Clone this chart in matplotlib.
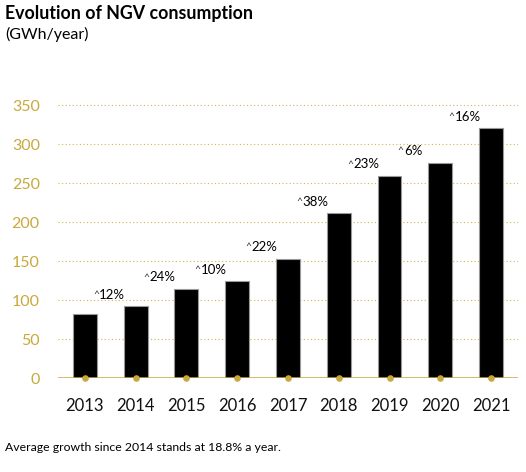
import matplotlib.pyplot as plt
import numpy as np

years = ['2013', '2014', '2015', '2016', '2017', '2018', '2019', '2020', '2021']
consumption = [82, 92, 114, 124, 153, 211, 259, 276, 320]
growth = ['', '12%', '24%', '10%', '22%', '38%', '23%', '6%', '16%']
yticks = [0, 50, 100, 150, 200, 250, 300, 350]

gold = '#C9A83C'
plt.rcParams['font.family'] = ['Lato', 'DejaVu Sans']

fig = plt.figure(figsize=(5.26, 4.72), dpi=100)
ax = fig.add_axes([0.110, 0.199, 0.875, 0.595])

x = np.arange(len(years))
ax.bar(x, consumption, width=0.47, color='black', edgecolor='#999999', linewidth=0.8, zorder=3)

# growth labels, up and left of each bar
for i, (v, g) in enumerate(zip(consumption, growth)):
    if g:
        ax.text(i - 0.84, v + 12, '^', fontsize=7.5, ha='left', va='baseline', color='#333333')
        ax.text(i - 0.72, v + 10, g, fontsize=9.5, ha='left', va='baseline', color='black')

ax.set_xlim(-0.532, 8.532)
ax.set_ylim(0, 360)
ax.set_yticks(yticks)
ax.set_xticks(x)
ax.set_xticklabels(years, fontsize=12, color='#111111')
for t in ax.get_yticklabels():
    t.set_fontsize(11.5)
    t.set_color(gold)

for y in yticks[1:]:
    ax.axhline(y, color=gold, linestyle=(0, (1, 2.2)), linewidth=0.8, alpha=0.85, zorder=1)
ax.axhline(0, color=gold, linewidth=1.8, zorder=4)
ax.scatter(x, np.zeros(len(x)), s=14, color=gold, zorder=5, clip_on=False)

for s in ax.spines.values():
    s.set_visible(False)
ax.tick_params(axis='both', length=0)
ax.tick_params(axis='y', pad=13)
ax.tick_params(axis='x', pad=14)

fig.text(0.010, 0.972, 'Evolution of NGV consumption', fontsize=12.8, fontweight='bold', va='center')
fig.text(0.010, 0.928, '(GWh/year)', fontsize=11.5, va='center')
fig.text(0.010, 0.051, 'Average growth since 2014 stands at 18.8% a year.', fontsize=8.8, va='center')

fig.savefig('out.png', dpi=100)
